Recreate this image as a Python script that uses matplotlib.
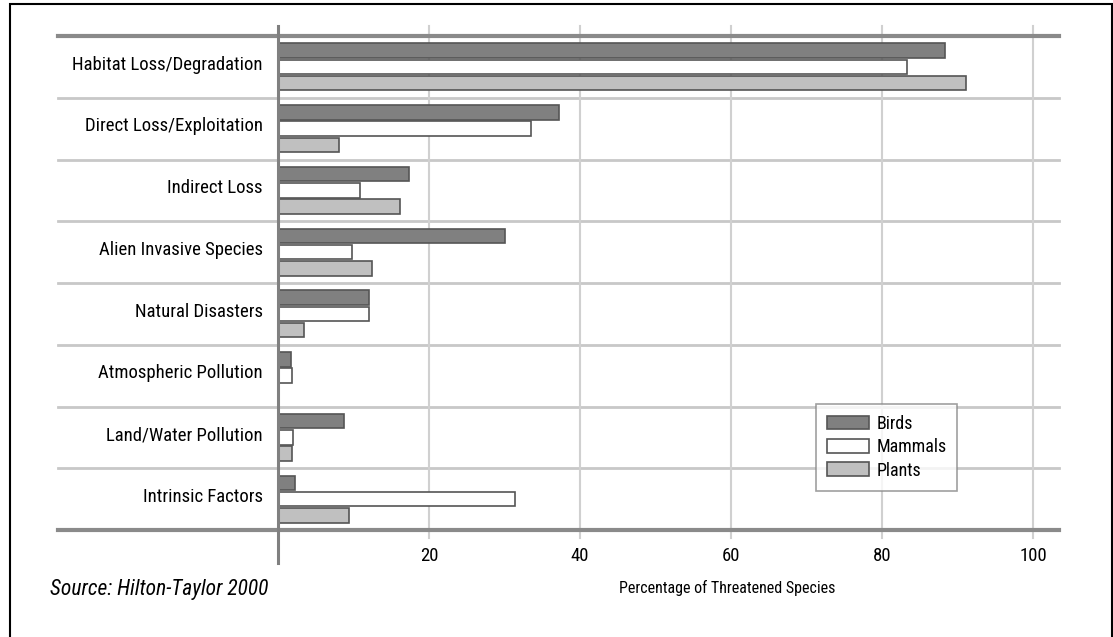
import matplotlib
matplotlib.use('Agg')
import matplotlib.pyplot as plt
from matplotlib import font_manager
from matplotlib.patches import Rectangle
import numpy as np

# the reference uses a condensed gothic face; take the first one installed
installed = {f.name for f in font_manager.fontManager.ttflist}
for cand in ['Roboto Condensed', 'PT Sans Narrow', 'Barlow Semi Condensed', 'Archivo Narrow', 'Asap Condensed']:
    if cand in installed:
        plt.rcParams['font.family'] = [cand, 'DejaVu Sans']
        break

categories = ['Habitat Loss/Degradation', 'Direct Loss/Exploitation', 'Indirect Loss',
              'Alien Invasive Species', 'Natural Disasters', 'Atmospheric Pollution',
              'Land/Water Pollution', 'Intrinsic Factors']
birds = [88.3, 37.2, 17.4, 30.1, 12.0, 1.7, 8.7, 2.2]
mammals = [83.3, 33.5, 10.9, 9.8, 12.0, 1.8, 2.0, 31.4]
plants = [91.1, 8.1, 16.2, 12.5, 3.4, 0.0, 1.8, 9.4]
xticks = [20, 40, 60, 80, 100]

fig = plt.figure(figsize=(11.13, 6.37), dpi=100)
W, H = 1113, 637
left, right, top, bottom = 278, 1059, 36, 530
ax = fig.add_axes([left / W, 1 - bottom / H, (right - left) / W, (bottom - top) / H])

n = len(categories)
centers = np.arange(n) + 0.5
bh = 0.235
pitch = 0.264
edge = '#555555'
series = [('Birds', birds, '#808080'), ('Mammals', mammals, '#ffffff'), ('Plants', plants, '#c0c0c0')]
for k, (name, vals, col) in enumerate(series):
    ys = centers + (k - 1) * pitch
    vals = np.array(vals)
    ax.barh(ys, vals, height=bh, color=col, edgecolor=np.where(vals > 0, edge, 'none').tolist(),
            linewidth=1.2, label=name, zorder=3)

ax.set_xlim(0, (right - left) / 7.55)
ax.set_ylim(n, 0)

for s in ax.spines.values():
    s.set_visible(False)

# row separators reaching into the label area
ext = (58 - left) / (right - left)
for i in range(n + 1):
    if i in (0, n):
        ax.axhline(i, xmin=ext, xmax=1, color='#8a8a8a', lw=3, clip_on=False, zorder=2)
    else:
        ax.axhline(i, xmin=ext, xmax=1, color='#c8c8c8', lw=2, clip_on=False, zorder=1)

# vertical grid
ylo = (bottom - 538) / (bottom - top)
yhi = (bottom - 26) / (bottom - top)
for t in xticks:
    ax.plot([t, t], [n - ylo * n, n - yhi * n], color='#d0d0d0', lw=1.5, clip_on=False, zorder=1)
# zero axis
ylo0 = (bottom - 563) / (bottom - top)
ax.plot([0, 0], [n - ylo0 * n, n - yhi * n], color='#808080', lw=2.2, clip_on=False, zorder=4)

ax.set_yticks(centers - 0.07)
ax.set_yticklabels(categories, fontsize=13.5)
ax.set_xticks(xticks)
ax.set_xticklabels([str(t) for t in xticks], fontsize=13.5)
ax.tick_params(axis='y', length=0, pad=11)
ax.tick_params(axis='x', length=0, pad=12)

fig.text(727 / W, 1 - 588 / H, 'Percentage of Threatened Species', fontsize=11.5,
         ha='center', va='center')
fig.text(50 / W, 1 - 590 / H, 'Source: Hilton-Taylor 2000', fontsize=15.5,
         style='italic', ha='left', va='center')

leg = ax.legend(loc='upper left', bbox_to_anchor=(816 / W, 1 - 404 / H),
                bbox_transform=fig.transFigure, fontsize=13, frameon=True, fancybox=False,
                handlelength=2.35, handleheight=0.8, handletextpad=0.4, labelspacing=0.3,
                borderpad=0.6, borderaxespad=0)
leg.get_frame().set_edgecolor('#888888')
leg.get_frame().set_linewidth(1.2)

fig.patches.append(Rectangle((10 / W, -0.01), 1101.5 / W, 1 - 4 / H + 0.01,
                             transform=fig.transFigure, fill=False, edgecolor='black', lw=1.5))

fig.savefig('out.png', dpi=100)
